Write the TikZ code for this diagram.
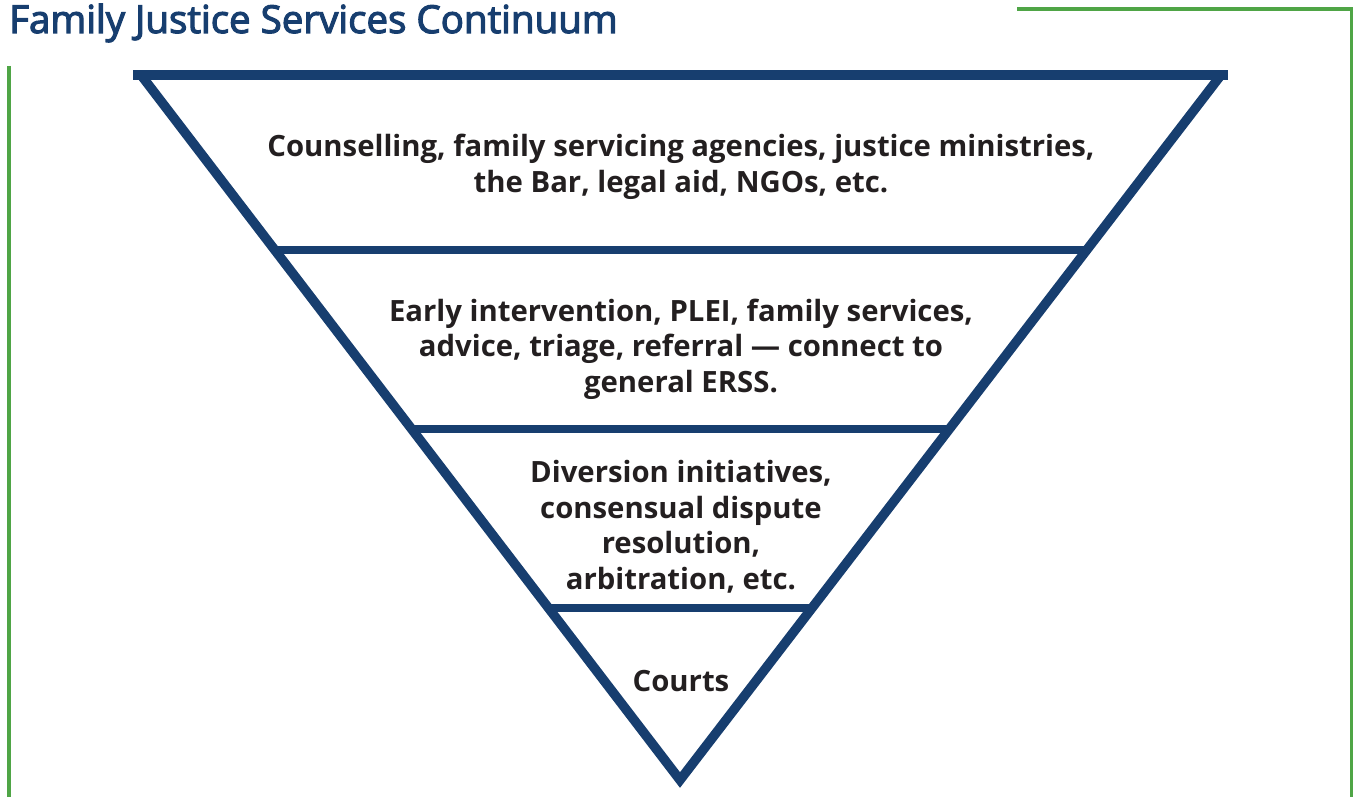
\documentclass[tikz,border=0pt]{standalone}
\usepackage{fontspec}
\setmainfont{Open Sans}
\newfontfamily\titlefont[FakeBold=3]{Open Sans}
\usetikzlibrary{calc}
\definecolor{navy}{HTML}{173E6F}
\definecolor{frame}{HTML}{4FA546}
\definecolor{ink}{HTML}{231F20}
\begin{document}
\begin{tikzpicture}[x=1pt,y=-1pt,
  funnel/.style={draw=navy,line width=9.5pt},
  rule/.style={draw=frame,line width=3.2pt},
  tier/.style={text=ink,font=\fontsize{29.3}{35.5}\selectfont\bfseries,align=center,inner sep=0pt}]
\useasboundingbox (0,0) rectangle (1353,797);

% green frame lines
\coordinate (gl1) at (9,66);
\coordinate (gl2) at (9,797);
\coordinate (gr1) at (1017,9);
\coordinate (gr2) at (1351.5,9);
\coordinate (gr3) at (1351.5,797);
\draw[rule] (gl1) -- (gl2);
\draw[rule] (gr1) -- (gr2) -- (gr3);

% title
\node[anchor=base west,inner sep=0pt,text=navy,font=\titlefont\fontsize{38.5}{44}\selectfont] (title) at (9,33) {Family Justice Services Continuum};

% inverted triangle
\coordinate (TL) at (141,75);
\coordinate (TR) at (1221,75);
\coordinate (B) at (680,780);
\coordinate (TLo) at (133,75);
\coordinate (TRo) at (1228,75);
\draw[funnel,line join=miter] (TL) -- (B) -- (TR);
\draw[funnel] (TLo) -- (TRo);

% tier dividers
\foreach \t/\n in {0.2482/a,0.5021/b,0.7560/c}{
  \coordinate (L\n) at ($(TL)!\t!(B)$);
  \coordinate (R\n) at ($(TR)!\t!(B)$);
  \draw[funnel,line width=8.5pt] (L\n) -- (R\n);
}

% tier labels
\node[tier] (t1) at (681,167) {Counselling, family servicing agencies, justice ministries,\\the Bar, legal aid, NGOs, etc.};
\node[tier] (t2) at (681,349) {Early intervention, PLEI, family services,\\advice, triage, referral — connect to\\general ERSS.};
\node[tier] (t3) at (681,527) {Diversion initiatives,\\consensual dispute\\resolution,\\arbitration, etc.};
\node[tier] (t4) at (681,681) {Courts};
\end{tikzpicture}
\end{document}
